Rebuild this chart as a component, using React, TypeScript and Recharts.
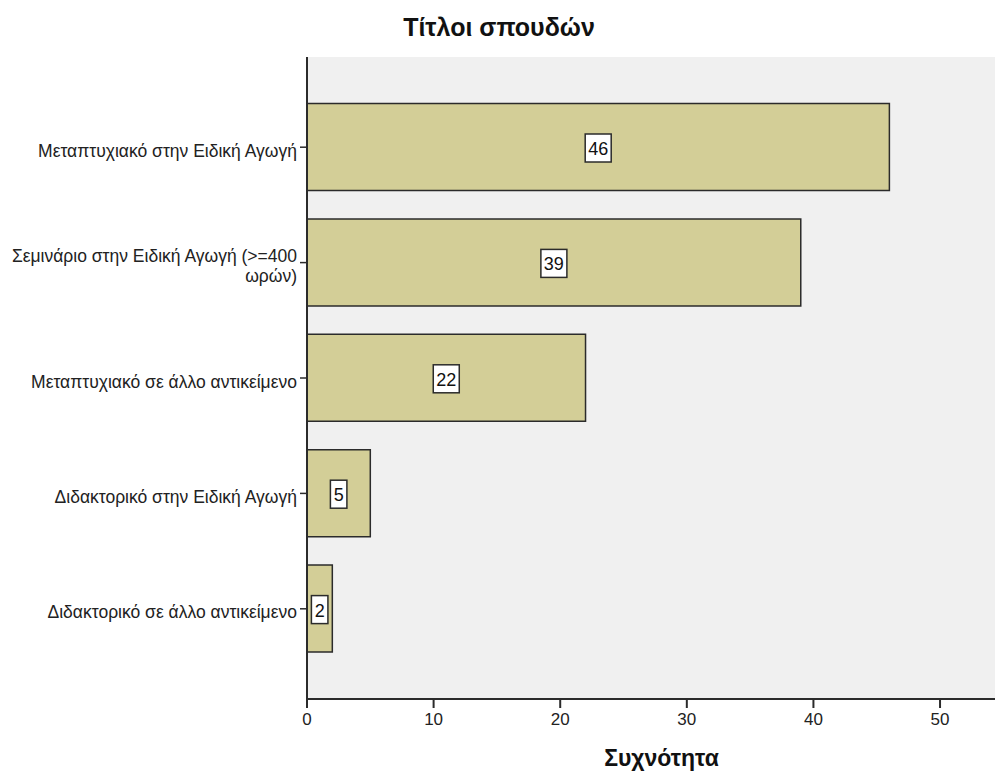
import React from "react";
import { Bar, BarChart, LabelList, XAxis, YAxis, CartesianGrid, Label } from "recharts";

const categories = [
  "Μεταπτυχιακό στην Ειδική Αγωγή",
  "Σεμινάριο στην Ειδική Αγωγή (>=400 ωρών)",
  "Μεταπτυχιακό σε άλλο αντικείμενο",
  "Διδακτορικό στην Ειδική Αγωγή",
  "Διδακτορικό σε άλλο αντικείμενο",
];
const counts = [46, 39, 22, 5, 2];
const xTicks = [0, 10, 20, 30, 40, 50];

const data = categories.map((name, i) => ({ name, value: counts[i] }));

const FONT = "'Liberation Sans', Arial, sans-serif";
const DARK = "#2b2b2b";

// greedy word wrap, SPSS-style long labels break onto a second line
function wrap(text: string, max: number) {
  const lines: string[] = [];
  let cur = "";
  for (const w of text.split(" ")) {
    const next = cur ? cur + " " + w : w;
    if (next.length > max && cur) {
      lines.push(cur);
      cur = w;
    } else cur = next;
  }
  if (cur) lines.push(cur);
  return lines;
}

function CategoryTick(props: any) {
  const { x, y, payload } = props;
  const lines = wrap(payload.value, 34);
  const lh = 20;
  const start = y + 3.5 - ((lines.length - 1) * lh) / 2;
  return (
    <g>
      {lines.map((l, i) => (
        <text
          key={i}
          x={x}
          y={start + i * lh}
          textAnchor="end"
          dominantBaseline="central"
          fontSize={17.5}
          fontFamily={FONT}
          fill="#222"
        >
          {l}
        </text>
      ))}
    </g>
  );
}

function ValueBox(props: any) {
  const { x, y, width, height, value } = props;
  const s = String(value);
  const w = 7 + s.length * 9.5;
  const h = 28;
  const cx = x + width / 2;
  const cy = y + height / 2 + 1;
  return (
    <g>
      <rect x={cx - w / 2} y={cy - h / 2} width={w} height={h} fill="#fff" stroke={DARK} strokeWidth={1.5} />
      <text x={cx} y={cy + 1} textAnchor="middle" dominantBaseline="central" fontSize={18} fontFamily={FONT} fill="#111">
        {s}
      </text>
    </g>
  );
}

export default function App() {
  return (
    <div style={{ position: "fixed", left: 0, top: 0, width: 995, height: 773, overflow: "hidden", background: "#fff" }}>
      <div
        style={{
          position: "absolute",
          left: 0,
          width: 998,
          top: 13,
          textAlign: "center",
          fontFamily: FONT,
          fontWeight: "bold",
          fontSize: 25,
          color: "#111",
        }}
      >
        Τίτλοι σπουδών
      </div>
      <BarChart
        width={1016}
        height={773}
        data={data}
        layout="vertical"
        margin={{ top: 57, right: 0, bottom: 0, left: 0 }}
        barSize={87}
      >
        <CartesianGrid fill="#f0f0f0" horizontal={false} vertical={false} />
        <XAxis
          type="number"
          domain={[0, 56]}
          ticks={xTicks}
          allowDataOverflow
          height={74}
          tickSize={9}
          tickMargin={5}
          axisLine={{ stroke: DARK, strokeWidth: 2 }}
          tickLine={{ stroke: DARK, strokeWidth: 2 }}
          tick={{ fontSize: 17, fontFamily: FONT, fill: "#222" }}
        >
          <Label
            value="Συχνότητα"
            position="insideBottom"
            offset={7}
            style={{ fontSize: 23, fontWeight: "bold", fontFamily: FONT, fill: "#111" }}
          />
        </XAxis>
        <XAxis
          xAxisId="top"
          orientation="top"
          type="number"
          domain={[0, 56]}
          height={0}
          tick={false}
          tickLine={false}
          axisLine={{ stroke: "#444", strokeWidth: 2 }}
        />
        <YAxis
          type="category"
          dataKey="name"
          width={307}
          padding={{ top: 32.5, bottom: 32.5 }}
          tickSize={7}
          tickMargin={3}
          axisLine={{ stroke: DARK, strokeWidth: 2 }}
          tickLine={{ stroke: DARK, strokeWidth: 1.5 }}
          tick={<CategoryTick />}
          interval={0}
        />
        <Bar dataKey="value" fill="#d3ce97" stroke={DARK} strokeWidth={1.5} isAnimationActive={false}>
          <LabelList dataKey="value" content={<ValueBox />} />
        </Bar>
      </BarChart>
    </div>
  );
}
